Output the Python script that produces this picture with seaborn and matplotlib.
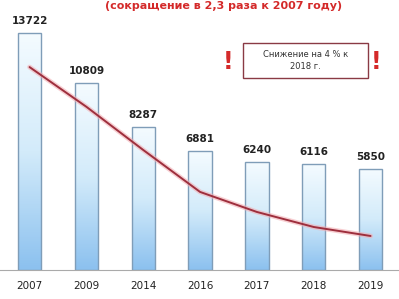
import matplotlib
matplotlib.use('Agg')
import matplotlib.pyplot as plt
import seaborn as sns
import numpy as np
import pandas as pd
from matplotlib.colors import LinearSegmentedColormap
from matplotlib.patches import Rectangle

# --- данные ---
years = ['2007', '2009', '2014', '2016', '2017', '2018', '2019']
values = [13722, 10809, 8287, 6881, 6240, 6116, 5850]
trend = [11750, 9450, 6950, 4520, 3360, 2490, 1970]

df = pd.DataFrame({'Год': years, 'Значение': values})

sns.set_theme(style='white')
plt.rcParams['font.family'] = ['DejaVu Sans']

fig = plt.figure(figsize=(3.99, 2.99), dpi=100)
ax = fig.add_axes([0, 0.097, 1, 0.903])

sns.barplot(data=df, x='Год', y='Значение', width=0.41, color='white',
            edgecolor='#7f9db8', linewidth=1.0, ax=ax, zorder=2)

# градиентная заливка столбцов
cmap = LinearSegmentedColormap.from_list('g', ['#f4fbff', '#d3ebfa', '#8cc1ef'])
grad = np.linspace(0, 1, 100).reshape(-1, 1)
for bar in ax.patches:
    x, w, h = bar.get_x(), bar.get_width(), bar.get_height()
    bar.set_facecolor('none')
    im = ax.imshow(grad, extent=[x, x + w, 0, h], aspect='auto', cmap=cmap,
                   origin='upper', zorder=1.5)
    im.set_clip_path(bar)
    ax.annotate(f'{int(h)}', (x + w / 2, h), xytext=(0, 5),
                textcoords='offset points', ha='center', va='bottom',
                fontsize=7.5, fontweight='bold', color='#222222')

# линия тренда
ax.plot(range(len(years)), trend, color='#f3b0b5', lw=3.5, alpha=0.6, zorder=3)
ax.plot(range(len(years)), trend, color='#9e2f3d', lw=1.4, zorder=4)

ax.set_xlim(-0.52, 6.36)
ax.set_ylim(0, 15634)
ax.set_xlabel('')
ax.set_ylabel('')
ax.set_yticks([])
ax.tick_params(axis='x', length=0, labelsize=7.5, pad=8, colors='#222222')
ax.set_xticks(np.arange(-0.5, 6.6, 1), minor=True)
ax.tick_params(axis='x', which='minor', length=3, color='#999999', direction='out')
for s in ['top', 'right', 'left']:
    ax.spines[s].set_visible(False)
ax.spines['bottom'].set_color('#aaaaaa')
ax.spines['bottom'].set_linewidth(0.8)

# заголовок
fig.text(0.56, 0.997, '(сокращение в 2,3 раза к 2007 году)', ha='center',
         va='top', fontsize=8, fontweight='bold', color='#d42a2a')

# рамка с пояснением
ax.add_patch(Rectangle((3.76, 11120), 2.19, 2020, transform=ax.transData,
                       fill=True, facecolor='white', edgecolor='#8a3a44',
                       lw=1.0, zorder=5))
ax.text(4.855, 12130, 'Снижение на 4 % к\n2018 г.', ha='center', va='center',
        fontsize=6, color='#333333', zorder=6, linespacing=1.5)
ax.text(3.5, 12050, '!', ha='center', va='center', fontsize=17,
        fontweight='bold', color='#d42a2a', zorder=6)
ax.text(6.09, 12050, '!', ha='center', va='center', fontsize=17,
        fontweight='bold', color='#d42a2a', zorder=6, clip_on=False)

plt.savefig('out.png', dpi=100)
